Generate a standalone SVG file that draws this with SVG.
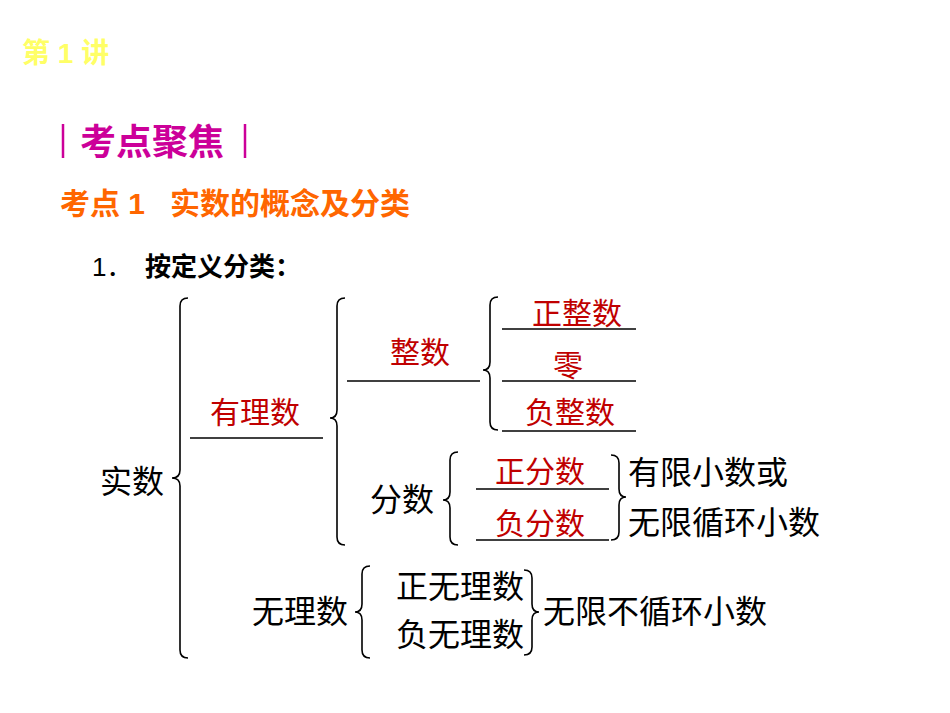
<svg xmlns="http://www.w3.org/2000/svg" width="950" height="713" viewBox="0 0 950 713">
<style>
text{font-family:"Liberation Sans","Noto Sans CJK SC",sans-serif}
.b{font-weight:bold}
.r{fill:#C00000;font-size:30px;text-anchor:middle}
.k{fill:#000;font-size:32px}
.br{fill:none;stroke:#000;stroke-width:1.6}
.ln{stroke:#000;stroke-width:1.6}
</style>
<rect width="950" height="713" fill="#fff"/>
<g id="header">
<text x="22" y="63" class="b" font-size="28" fill="#FFFF66">第 1 讲</text>
<line x1="63" y1="124" x2="63" y2="158" stroke="#CC0099" stroke-width="2.5"/>
<text x="80" y="155" class="b" font-size="36" fill="#CC0099">考点聚焦</text>
<line x1="245" y1="124" x2="245" y2="158" stroke="#CC0099" stroke-width="2.5"/>
<text x="60" y="214" class="b" font-size="30" fill="#FF6600">考点 1 <tspan x="170">实数的概念及分类</tspan></text>
<text x="92" y="276" font-size="26" fill="#000">1． <tspan x="145" class="b">按定义分类：</tspan></text>
</g>
<g id="connectors">
<path class="br" d="M188 298 Q180 298 180 306 L180 470 Q180 478 172 478 Q180 478 180 486 L180 650 Q180 658 188 658"/>
<path class="br" d="M345 298 Q337 298 337 306 L337 410 Q337 418 330 418 Q337 418 337 426 L337 537 Q337 545 345 545"/>
<path class="br" d="M498 297 Q490 297 490 305 L490 362 Q490 370 483 370 Q490 370 490 378 L490 422 Q490 430 498 430"/>
<path class="br" d="M458 452 Q450 452 450 460 L450 492 Q450 500 443 500 Q450 500 450 508 L450 537 Q450 545 458 545"/>
<path class="br" d="M611 455 Q619 455 619 463 L619 489 Q619 497 626 497 Q619 497 619 505 L619 532 Q619 540 611 540"/>
<path class="br" d="M370 566 Q362 566 362 574 L362 604 Q362 612 355 612 Q362 612 362 620 L362 650 Q362 658 370 658"/>
<path class="br" d="M524 570 Q532 570 532 578 L532 604 Q532 612 539 612 Q532 612 532 620 L532 647 Q532 655 524 655"/>
<line class="ln" x1="190" y1="438" x2="323" y2="438"/>
<line class="ln" x1="347" y1="381" x2="480" y2="381"/>
<line class="ln" x1="502" y1="329" x2="636" y2="329"/>
<line class="ln" x1="502" y1="381" x2="636" y2="381"/>
<line class="ln" x1="502" y1="431" x2="636" y2="431"/>
<line class="ln" x1="476" y1="489" x2="609" y2="489"/>
<line class="ln" x1="476" y1="540" x2="609" y2="540"/>
</g>
<g id="n-shishu"><text class="k" x="100" y="493">实数</text></g>
<g id="n-youlishu"><text class="r" x="255" y="423">有理数</text></g>
<g id="n-zhengshu"><text class="r" x="420" y="363">整数</text></g>
<g id="n-zhengzhengshu"><text class="r" x="577" y="324">正整数</text></g>
<g id="n-ling"><text class="r" x="568" y="376">零</text></g>
<g id="n-fuzhengshu"><text class="r" x="570" y="423">负整数</text></g>
<g id="n-fenshu"><text class="k" x="370" y="511">分数</text></g>
<g id="n-zhengfenshu"><text class="r" x="540" y="482">正分数</text></g>
<g id="n-fufenshu"><text class="r" x="540" y="534">负分数</text></g>
<g id="n-youxian"><text class="k" x="628" y="484">有限小数或</text><text class="k" x="628" y="534">无限循环小数</text></g>
<g id="n-wulishu"><text class="k" x="252" y="623">无理数</text></g>
<g id="n-zwls"><text class="k" x="396" y="598">正无理数</text></g>
<g id="n-fwls"><text class="k" x="396" y="646">负无理数</text></g>
<g id="n-wuxian"><text class="k" x="543" y="623">无限不循环小数</text></g>
</svg>
